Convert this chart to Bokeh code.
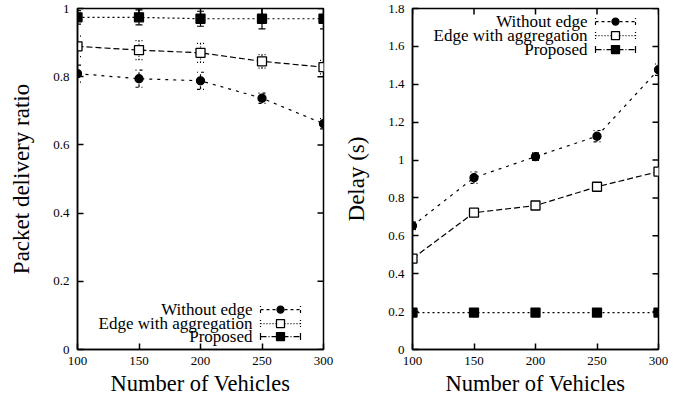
from bokeh.plotting import figure
from bokeh.layouts import row
from bokeh.models import FixedTicker, Whisker, TeeHead, ColumnDataSource, Range1d
from bokeh.core.properties import value
from bokeh.embed import file_html
from bokeh.resources import INLINE

# ---------------- data ----------------
vehicles = [100, 150, 200, 250, 300]
x_ticks = [100, 150, 200, 250, 300]
series_names = ["Without edge", "Edge with aggregation", "Proposed"]

pdr_without = [0.809, 0.794, 0.788, 0.737, 0.662]
pdr_without_err = [0.025, 0.025, 0.025, 0.015, 0.015]
pdr_agg = [0.889, 0.878, 0.870, 0.845, 0.828]
pdr_agg_err = [0.030, 0.028, 0.028, 0.020, 0.020]
pdr_prop = [0.974, 0.974, 0.970, 0.970, 0.970]
pdr_prop_err = [0.020, 0.022, 0.022, 0.030, 0.030]
pdr_ticks = [0, 0.2, 0.4, 0.6, 0.8, 1.0]
pdr_tick_labels = ["0", "0.2", "0.4", "0.6", "0.8", "1"]

delay_without = [0.653, 0.907, 1.018, 1.126, 1.477]
delay_without_err = [0.020, 0.030, 0.020, 0.030, 0.030]
delay_agg = [0.480, 0.722, 0.760, 0.859, 0.939]
delay_agg_err = [0.012, 0.015, 0.015, 0.020, 0.020]
delay_prop = [0.195, 0.195, 0.195, 0.195, 0.195]
delay_prop_err = [0.004, 0.004, 0.004, 0.004, 0.004]
delay_ticks = [0, 0.2, 0.4, 0.6, 0.8, 1.0, 1.2, 1.4, 1.6, 1.8]
delay_tick_labels = ["0", "0.2", "0.4", "0.6", "0.8", "1", "1.2", "1.4", "1.6", "1.8"]

FONT = "'Liberation Serif', serif"
FRAME_W = 246
FRAME_H = 341
TICK = 6

# series styles: (marker, fill, line dash, errorbar dash)
styles = [
    ("circle", "black", "3 5", "3 3"),
    ("square", "white", "6 3", "1 2"),
    ("square", "black", "2 3", "solid"),
]
legend_dashes = ["3 3", "1 2", "6 2 1 2"]


def msize(marker, legend=False):
    if legend:
        return 7 if marker == "circle" else 8
    return 8 if marker == "circle" else 9


def make_panel(width, min_left, min_right, ylabel, yend, yticks, ylabels,
               ys, errs, legend_rows_frac):
    p = figure(width=width, height=400, output_backend="svg", toolbar_location=None,
               x_range=Range1d(100, 300), y_range=Range1d(0, yend),
               min_border_left=min_left, min_border_right=min_right,
               min_border_top=8, min_border_bottom=51)
    p.grid.visible = False
    p.outline_line_color = "black"
    p.outline_line_width = 1.5
    p.background_fill_color = "white"
    p.border_fill_color = "white"

    p.xaxis.ticker = FixedTicker(ticks=x_ticks)
    p.yaxis.ticker = FixedTicker(ticks=yticks)
    for ax in p.axis:
        ax.major_tick_in = TICK
        ax.major_tick_out = 0
        ax.minor_tick_line_color = None
        ax.axis_line_width = 1.5
        ax.major_tick_line_width = 1.5
        ax.major_label_text_font = FONT
        ax.major_label_text_font_size = "13px"
        ax.major_label_text_color = "black"
        ax.axis_label_text_font = FONT
        ax.axis_label_text_font_style = "normal"
        ax.axis_label_text_color = "black"
    p.yaxis.major_label_overrides = {t: l for t, l in zip(yticks, ylabels)}
    p.yaxis.axis_label = ylabel
    p.yaxis.axis_label_text_font_size = "23px"
    p.yaxis.major_label_standoff = 8
    p.yaxis.axis_label_standoff = 16
    p.xaxis.axis_label = "Number of Vehicles"
    p.xaxis.axis_label_text_font_size = "22.5px"
    p.xaxis.major_label_standoff = 7
    p.xaxis.axis_label_standoff = 3

    dx = 200.0 / FRAME_W
    dy = yend / FRAME_H

    # mirror ticks on top and right edges (gnuplot style)
    p.segment(x0=x_ticks, y0=[yend] * len(x_ticks), x1=x_ticks,
              y1=[yend - TICK * dy] * len(x_ticks), line_color="black", line_width=1.5)
    p.segment(x0=[300] * len(yticks), y0=yticks, x1=[300 - TICK * dx] * len(yticks),
              y1=yticks, line_color="black", line_width=1.5)

    for (marker, fill, dash, edash), y, e in zip(styles, ys, errs):
        src = ColumnDataSource(dict(x=vehicles, y=y,
                                    lo=[a - b for a, b in zip(y, e)],
                                    hi=[a + b for a, b in zip(y, e)]))
        p.line("x", "y", source=src, line_color="black", line_width=1.2, line_dash=dash)
        w = Whisker(source=src, base="x", lower="lo", upper="hi", dimension="height",
                    line_color="black", line_width=1.2, line_dash=edash,
                    upper_head=TeeHead(size=7, line_color="black", line_width=1.2, line_dash=edash),
                    lower_head=TeeHead(size=7, line_color="black", line_width=1.2, line_dash=edash))
        p.add_layout(w)
        p.scatter("x", "y", source=src, marker=marker, size=msize(marker),
                  fill_color=fill, line_color="black", line_width=1.3)

    # manual legend (gnuplot style: text right-aligned, sample on the right)
    text_x = 100 + 175 * dx
    s0 = 100 + 183 * dx
    s1 = 100 + 223 * dx
    sm = 100 + 203 * dx
    for i, name in enumerate(series_names):
        yy = legend_rows_frac[i] * yend
        p.text(x=[text_x], y=[yy], text=[name], text_font=value(FONT),
               text_font_size="17px", text_align="right", text_baseline="middle",
               text_color="black")
        p.segment(x0=[s0], y0=[yy], x1=[s1], y1=[yy], line_color="black",
                  line_width=1.2, line_dash=legend_dashes[i])
        p.segment(x0=[s0, s1], y0=[yy - 3.5 * dy, yy - 3.5 * dy],
                  x1=[s0, s1], y1=[yy + 3.5 * dy, yy + 3.5 * dy],
                  line_color="black", line_width=1.2,
                  line_dash="solid" if i == 2 else legend_dashes[i])
        marker, fill, _, _ = styles[i]
        p.scatter(x=[sm], y=[yy], marker=marker, size=msize(marker, True),
                  fill_color=fill, line_color="black", line_width=1.3)
    return p


p1 = make_panel(340, 77, 17, "Packet delivery ratio", 1.0, pdr_ticks, pdr_tick_labels,
                [pdr_without, pdr_agg, pdr_prop],
                [pdr_without_err, pdr_agg_err, pdr_prop_err],
                [0.117, 0.076, 0.038])
p2 = make_panel(340, 72, 22, "Delay (s)", 1.8, delay_ticks, delay_tick_labels,
                [delay_without, delay_agg, delay_prop],
                [delay_without_err, delay_agg_err, delay_prop_err],
                [0.9617, 0.9206, 0.8794])

layout = row(p1, p2)
open("out.html", "w").write(file_html(layout, INLINE))
